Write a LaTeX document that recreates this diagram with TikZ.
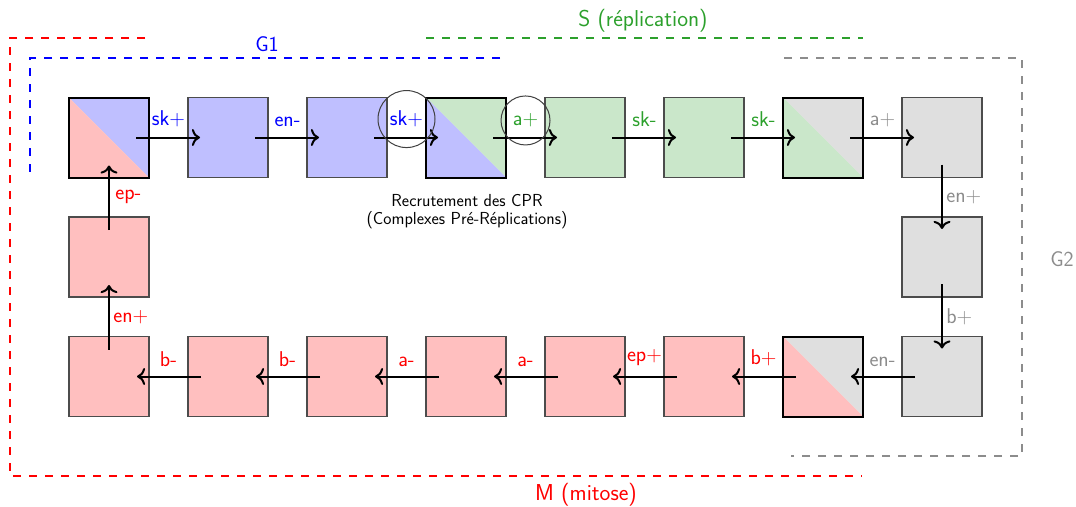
\documentclass[tikz,border=0pt]{standalone}
\usepackage{fontspec}
\usetikzlibrary{arrows.meta}
\definecolor{cg}{RGB}{44,160,44}
\definecolor{cgray}{RGB}{140,140,140}
\tikzset{
  box/.style={rectangle, minimum size=80pt, inner sep=0pt, draw=black!70, line width=1.2pt},
  redbox/.style={box, fill=red!25},
  bluebox/.style={box, fill=blue!25},
  greenbox/.style={box, fill=cg!25},
  graybox/.style={box, fill=gray!25},
  splitbox/.style 2 args={box, draw=black, line width=2pt,
    path picture={
      \fill[#1] (path picture bounding box.north west) -- (path picture bounding box.north east) -- (path picture bounding box.south east) -- cycle;
      \fill[#2] (path picture bounding box.north west) -- (path picture bounding box.south west) -- (path picture bounding box.south east) -- cycle;}},
  flow/.style={-{To[scale=1.35]}, line width=2pt, shorten >=28pt, shorten <=27pt},
  lab/.style={font=\sffamily\fontsize{21.4}{24}\selectfont},
  up/.style={lab, above, yshift=6pt},
  side/.style={lab, right},
  phase/.style={font=\sffamily\fontsize{21.4}{24}\selectfont, anchor=base},
  bigphase/.style={font=\sffamily\fontsize{23}{26}\selectfont, anchor=base},
  zone/.style={line width=2pt, dash pattern=on 8pt off 8pt},
  ring/.style={line width=1pt, draw=black!75},
}
\begin{document}
\begin{tikzpicture}[x=1pt,y=-1pt]
\useasboundingbox (0,0) rectangle (1076,506);
% zones
\draw[zone, red] (145,38) -- (10,38) -- (10,476) -- (862,476);
\draw[zone, blue] (500,58) -- (30,58) -- (30,177);
\draw[zone, cg] (426,38) -- (863,38);
\draw[zone, cgray] (784,58) -- (1022,58) -- (1022,456) -- (791,456);
\node[phase, text=blue] (pg1) at (267,51.5) {G1};
\node[bigphase, text=cg] (ps) at (643,26.5) {S (réplication)};
\node[phase, text=cgray] (pg2) at (1062,266) {G2};
\node[bigphase, text=red] (pm) at (586,500) {M (mitose)};
% boxes
\node[splitbox={blue!25}{red!25}] (t1) at (109,137.5) {};
\node[bluebox] (t2) at (228,137.5) {};
\node[bluebox] (t3) at (347,137.5) {};
\node[splitbox={cg!25}{blue!25}] (t4) at (466,137.5) {};
\node[greenbox] (t5) at (585,137.5) {};
\node[greenbox] (t6) at (704,137.5) {};
\node[splitbox={gray!25}{cg!25}] (t7) at (823,137.5) {};
\node[graybox] (t8) at (942,137.5) {};
\node[graybox] (r2) at (942,257) {};
\node[graybox] (b8) at (942,376.5) {};
\node[splitbox={gray!25}{red!25}] (b7) at (823,376.5) {};
\node[redbox] (b6) at (704,376.5) {};
\node[redbox] (b5) at (585,376.5) {};
\node[redbox] (b4) at (466,376.5) {};
\node[redbox] (b3) at (347,376.5) {};
\node[redbox] (b2) at (228,376.5) {};
\node[redbox] (b1) at (109,376.5) {};
\node[redbox] (l2) at (109,257) {};
% arrows
\draw[flow] (t1.center) -- node[up, text=blue] (a1) {sk+} (t2.center);
\draw[flow] (t2.center) -- node[up, text=blue] (a2) {en-} (t3.center);
\draw[flow] (t3.center) -- node[up, text=blue] (a3) {sk+} (t4.center);
\draw[flow] (t4.center) -- node[up, text=cg] (a4) {a+} (t5.center);
\draw[flow] (t5.center) -- node[up, text=cg] (a5) {sk-} (t6.center);
\draw[flow] (t6.center) -- node[up, text=cg] (a6) {sk-} (t7.center);
\draw[flow] (t7.center) -- node[up, text=cgray] (a7) {a+} (t8.center);
\draw[flow] (t8.center) -- node[side, text=cgray] (a8) {en+} (r2.center);
\draw[flow] (r2.center) -- node[side, text=cgray] (a9) {b+} (b8.center);
\draw[flow] (b8.center) -- node[up, text=cgray] (a10) {en-} (b7.center);
\draw[flow] (b7.center) -- node[up, text=red] (a11) {b+} (b6.center);
\draw[flow] (b6.center) -- node[up, text=red] (a12) {ep+} (b5.center);
\draw[flow] (b5.center) -- node[up, text=red] (a13) {a-} (b4.center);
\draw[flow] (b4.center) -- node[up, text=red] (a14) {a-} (b3.center);
\draw[flow] (b3.center) -- node[up, text=red] (a15) {b-} (b2.center);
\draw[flow] (b2.center) -- node[up, text=red] (a16) {b-} (b1.center);
\draw[flow] (b1.center) -- node[side, text=red] (a17) {en+} (l2.center);
\draw[flow] (l2.center) -- node[side, xshift=2pt, text=red] (a18) {ep-} (t1.center);
% circles
\draw[ring] (a3.center) circle (28.5);
\draw[ring] (a4.center) circle (24.5);
% caption
\node[font=\sffamily\fontsize{17.4}{18}\selectfont, align=center] (cpr) at (467,212) {Recrutement des CPR\\(Complexes Pré-Réplications)};
\end{tikzpicture}
\end{document}
